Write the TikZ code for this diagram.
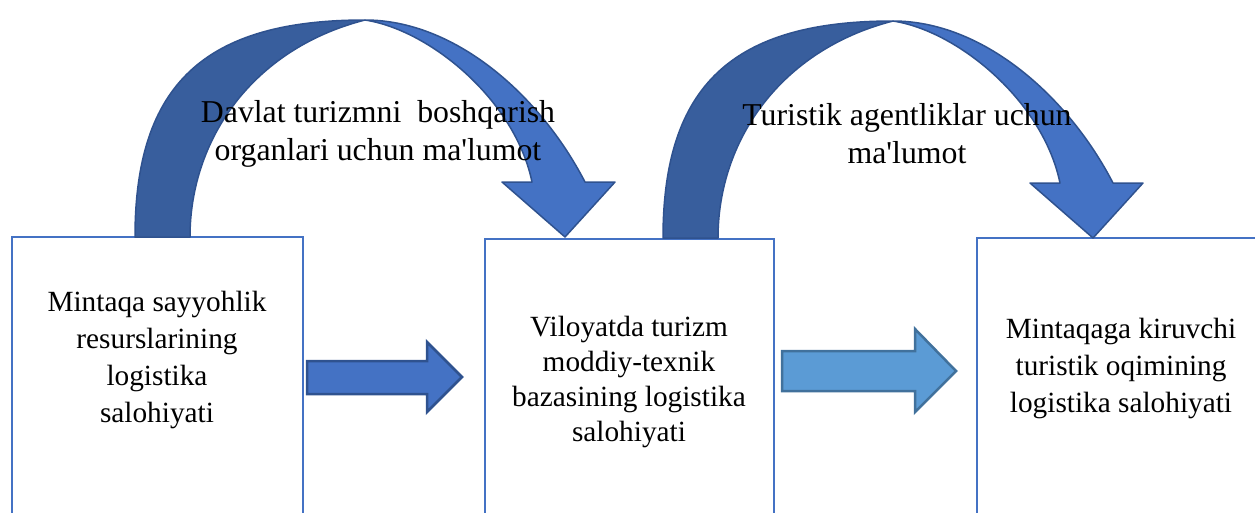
\documentclass[tikz,border=0pt]{standalone}
\usepackage{fontspec}
\setmainfont{Liberation Serif}[Ligatures=TeXOff]
\definecolor{boxblue}{HTML}{4472C4}
\definecolor{edgeblue}{HTML}{2F528F}
\definecolor{backblue}{HTML}{385E9D}
\definecolor{lightarrow}{HTML}{5B9BD5}
\definecolor{lightedge}{HTML}{41719C}
\begin{document}
\begin{tikzpicture}[x=1pt,y=-1pt,
  stage/.style={draw=boxblue, line width=2pt, fill=white, anchor=north west,
    minimum height=320pt, inner sep=0pt},
  txt/.style={align=center, inner sep=0pt, font=\fontsize{29.3}{37}\selectfont},
  lbl/.style={align=center, inner sep=0pt, font=\fontsize{31.8}{38}\selectfont},
  backface/.style={fill=backblue, draw=edgeblue, line width=1.5pt, line join=round},
  frontface/.style={fill=boxblue, draw=edgeblue, line width=1.5pt, line join=round},
  blockdark/.style={fill=boxblue, draw=edgeblue, line width=2.5pt, line join=miter},
  blocklight/.style={fill=lightarrow, draw=lightedge, line width=2.5pt, line join=miter}]
\useasboundingbox (0,0) rectangle (1255,512);
\clip (0,0) rectangle (1255,512);

% the three stages
\node[stage, minimum width=291pt] (b1) at (11,236) {};
\node[stage, minimum width=289pt] (b2) at (484,238) {};
\node[stage, minimum width=290pt] (b3) at (976,237) {};

\node[txt] (t1) at (157,360) {Mintaqa sayyohlik\\resurslarining\\logistika\\salohiyati};
\node[txt, font=\fontsize{29.3}{35}\selectfont] (t2) at (629,382)
  {Viloyatda turizm\\moddiy-texnik\\bazasining logistika\\salohiyati};
\node[txt] (t3) at (1121,368) {Mintaqaga kiruvchi\\turistik oqimining\\logistika salohiyati};

% block arrows between the stages
\draw[blockdark] (307,361) -- (427,361) -- (427,342) -- (462,377) -- (427,412)
  -- (427,394) -- (307,394) -- cycle;
\draw[blocklight] (782,351) -- (915,351) -- (915,329) -- (956,371) -- (915,412)
  -- (915,391) -- (782,391) -- cycle;

% curved arrows over the stages
\foreach \dx/\dy in {0/0, 528/1}{
\begin{scope}[shift={(\dx,\dy)}]
  \draw[backface] (135,237) .. controls (135,84) and (205,20) .. (365,20)
    .. controls (252,49) and (190,140) .. (190,237) -- cycle;
  \draw[frontface] (365,20) .. controls (455,20) and (540,95) .. (585,182)
    -- (615,182) -- (565,237) -- (502,182) -- (532,182)
    .. controls (515,100) and (430,30) .. (365,20) -- cycle;
\end{scope}
}

\node[lbl] (l1) at (378,134) {Davlat turizmni\ \ boshqarish\\organlari uchun ma'lumot};
\node[lbl] (l2) at (907,134) {Turistik agentliklar uchun\\ma'lumot};
\end{tikzpicture}
\end{document}
